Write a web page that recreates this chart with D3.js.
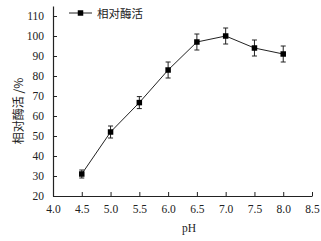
<!DOCTYPE html>
<html>
<head>
<meta charset="utf-8">
<script src="https://cdn.jsdelivr.net/npm/d3@7"></script>
<style>
  body { margin: 0; background: #fff; }
</style>
</head>
<body>
<svg></svg>
<script>
const phValues = [4.5, 5.0, 5.5, 6.0, 6.5, 7.0, 7.5, 8.0];
const activity = [31, 52, 66.7, 83, 97, 100, 94, 91];
const errors = [2, 3, 3, 4, 4, 4, 4, 4];
const xTicks = [4.0, 4.5, 5.0, 5.5, 6.0, 6.5, 7.0, 7.5, 8.0, 8.5];
const yTicks = [20, 30, 40, 50, 60, 70, 80, 90, 100, 110];

const data = phValues.map((p, i) => ({ ph: p, v: activity[i], e: errors[i] }));

const width = 321, height = 241;
const svg = d3.select("svg")
    .attr("width", width)
    .attr("height", height);

const x = d3.scaleLinear().domain([4.0, 8.5]).range([53, 312]);
const y = d3.scaleLinear().domain([20, 115]).range([196, 6]);

const serif = "'Liberation Serif', 'DejaVu Serif', serif";
const ink = "#222";

// x axis, ticks pointing inward
const xAxis = svg.append("g")
    .attr("transform", `translate(0,${y(20)})`)
    .call(d3.axisBottom(x).tickValues(xTicks).tickSizeInner(-4).tickSizeOuter(0)
        .tickPadding(9).tickFormat(d3.format(".1f")));
xAxis.select(".domain").attr("stroke", ink).attr("stroke-width", 1.2);
xAxis.selectAll(".tick line").attr("stroke", ink);
xAxis.selectAll("text").attr("font-family", serif).attr("font-size", 11.5).attr("fill", ink);

// y axis
const yAxis = svg.append("g")
    .attr("transform", `translate(${x(4.0)},0)`)
    .call(d3.axisLeft(y).tickValues(yTicks).tickSizeInner(-4).tickSizeOuter(0).tickPadding(9));
yAxis.select(".domain").attr("stroke", ink).attr("stroke-width", 1.2);
yAxis.selectAll(".tick line").attr("stroke", ink);
yAxis.selectAll("text").attr("font-family", serif).attr("font-size", 11.5).attr("fill", ink);

// axis titles
svg.append("text")
    .attr("x", 189)
    .attr("y", 232)
    .attr("text-anchor", "middle")
    .attr("font-family", serif)
    .attr("font-size", 11.5)
    .attr("fill", ink)
    .text("pH");

svg.append("text")
    .attr("transform", "translate(23,111) rotate(-90)")
    .attr("text-anchor", "middle")
    .attr("font-family", "'Noto Sans CJK SC', sans-serif")
    .attr("font-size", 12)
    .attr("fill", ink)
    .text("相对酶活 /%");

// line
svg.append("path")
    .datum(data)
    .attr("fill", "none")
    .attr("stroke", ink)
    .attr("stroke-width", 1)
    .attr("d", d3.line().x(d => x(d.ph)).y(d => y(d.v)));

// error bars
const eb = svg.append("g").attr("stroke", ink).attr("stroke-width", 1);
eb.selectAll(".ev").data(data).join("line")
    .attr("x1", d => x(d.ph)).attr("x2", d => x(d.ph))
    .attr("y1", d => y(d.v - d.e)).attr("y2", d => y(d.v + d.e));
eb.selectAll(".et").data(data).join("line")
    .attr("x1", d => x(d.ph) - 2.5).attr("x2", d => x(d.ph) + 2.5)
    .attr("y1", d => y(d.v + d.e)).attr("y2", d => y(d.v + d.e));
eb.selectAll(".eb").data(data).join("line")
    .attr("x1", d => x(d.ph) - 2.5).attr("x2", d => x(d.ph) + 2.5)
    .attr("y1", d => y(d.v - d.e)).attr("y2", d => y(d.v - d.e));

// markers
const ms = 5.5;
svg.selectAll(".pt").data(data).join("rect")
    .attr("x", d => x(d.ph) - ms / 2)
    .attr("y", d => y(d.v) - ms / 2)
    .attr("width", ms)
    .attr("height", ms)
    .attr("fill", "#000");

// legend
const lg = svg.append("g").attr("transform", "translate(69,13)");
lg.append("line").attr("x1", 0).attr("x2", 23).attr("y1", 0).attr("y2", 0)
    .attr("stroke", ink).attr("stroke-width", 1);
lg.append("rect").attr("x", 11.5 - ms / 2).attr("y", -ms / 2)
    .attr("width", ms).attr("height", ms).attr("fill", "#000");
lg.append("text")
    .attr("x", 28)
    .attr("y", 4.5)
    .attr("font-family", "'Noto Sans CJK SC', sans-serif")
    .attr("font-size", 11.5)
    .attr("fill", ink)
    .text("相对酶活");
</script>
</body>
</html>
